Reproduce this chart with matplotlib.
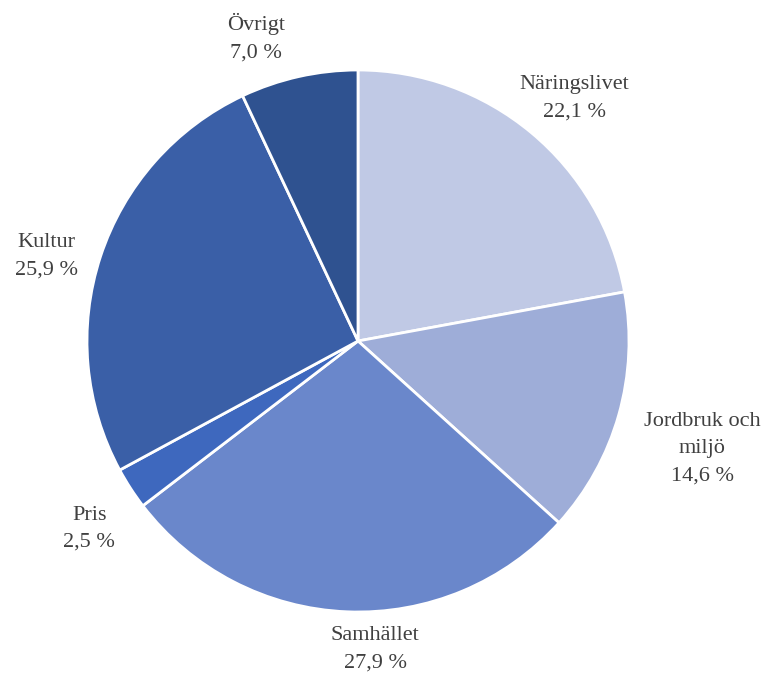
import matplotlib
matplotlib.use("Agg")
import matplotlib.pyplot as plt
import numpy as np

categories = ["Näringslivet", "Jordbruk och\nmiljö", "Samhället", "Pris", "Kultur", "Övrigt"]
shares = [22.1, 14.6, 27.9, 2.5, 25.9, 7.0]
colors = ["#C0C9E5", "#9EADD8", "#6A87CB", "#3E68BE", "#3A5FA7", "#2F5290"]

labels = [f"{c}\n{str(v).replace('.', ',')} %" for c, v in zip(categories, shares)]

# label placement: distance from centre (in radii) and angle nudge (degrees)
label_dist = [1.20, 1.33, 1.14, 1.21, 1.19, 1.18]
label_nudge = [-2, -1.5, 5.5, 2, 3, 6]

fig = plt.figure(figsize=(7.81, 6.80), dpi=100)
r_px = 271
cx, cy = 358, 680 - 341
ax = fig.add_axes([(cx - r_px) / 781, (cy - r_px) / 680, 2 * r_px / 781, 2 * r_px / 680])

wedges, _ = ax.pie(shares, colors=colors, startangle=90, counterclock=False,
                   wedgeprops=dict(edgecolor="white", linewidth=2))

for w, lab, d, n in zip(wedges, labels, label_dist, label_nudge):
    ang = np.deg2rad((w.theta1 + w.theta2) / 2 + n)
    ax.text(d * np.cos(ang), d * np.sin(ang), lab, ha="center", va="center",
            family="Liberation Serif", fontsize=16, color="#404040",
            linespacing=1.6)

ax.set_xlim(-1, 1)
ax.set_ylim(-1, 1)
ax.set_aspect("equal")

fig.savefig("out.png", dpi=100)
